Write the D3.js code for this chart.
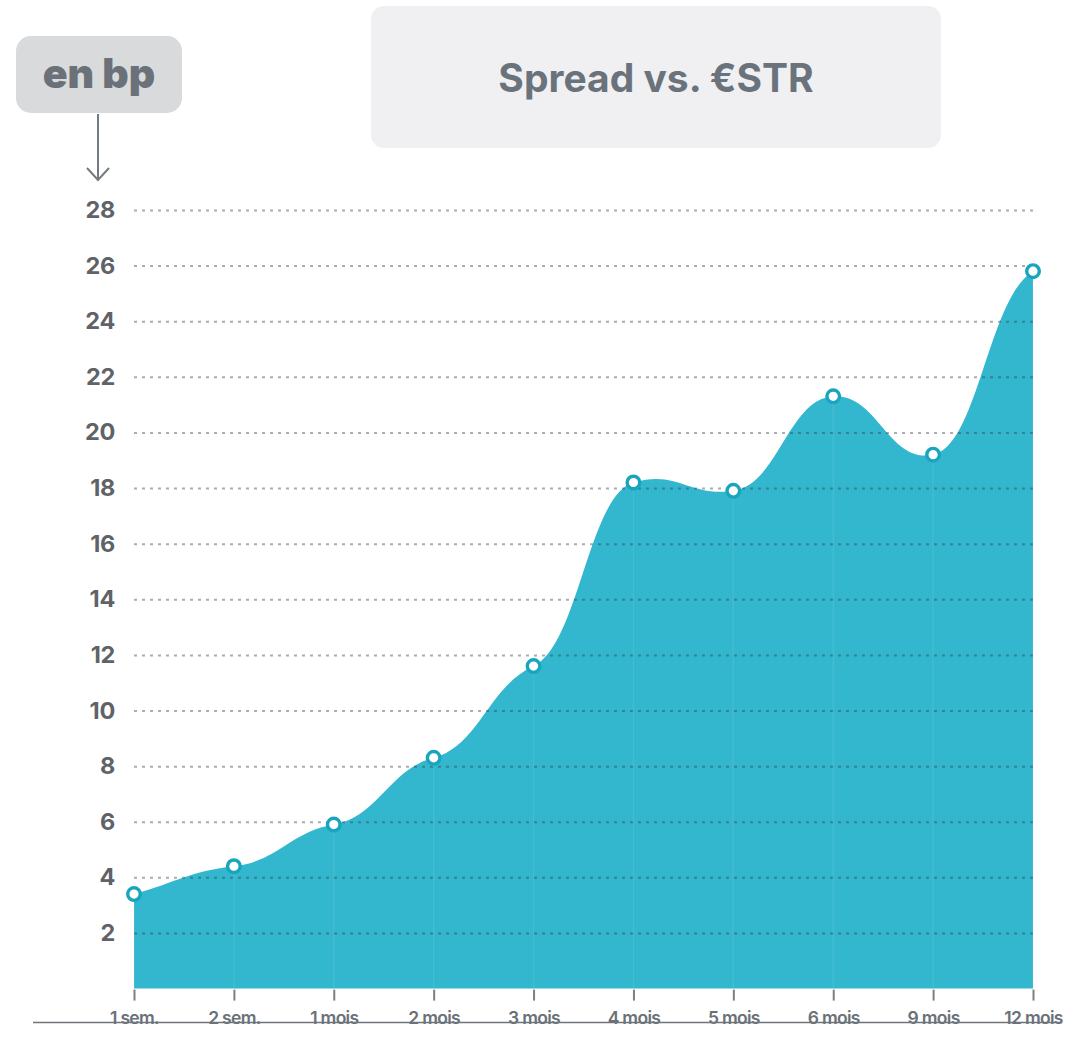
<!DOCTYPE html>
<html>
<head>
<meta charset="utf-8">
<script src="https://cdn.jsdelivr.net/npm/d3@7"></script>
<style>
  html, body { margin: 0; padding: 0; background: #ffffff; }
  svg { display: block; }
  text { font-family: "Inter", "Lato", "Open Sans", sans-serif; }
</style>
</head>
<body>
<svg id="chart" width="1076" height="1038"></svg>
<script>
// Maturities and spread over €STR (basis points)
const categories = ["1 sem.", "2 sem.", "1 mois", "2 mois", "3 mois", "4 mois", "5 mois", "6 mois", "9 mois", "12 mois"];
const spreadValues = [3.4, 4.4, 5.9, 8.3, 11.6, 18.2, 17.9, 21.3, 19.2, 25.8];
const yTickValues = [2, 4, 6, 8, 10, 12, 14, 16, 18, 20, 22, 24, 26, 28];
const titleText = "Spread vs. €STR";
const unitText = "en bp";

// Smooth curve with long horizontal handles and damped tangents,
// giving gentle S-shaped transitions between consecutive points.
function curveEased(context) { return new Eased(context); }
function Eased(context) { this._context = context; }
Eased.prototype = {
  areaStart() { this._line = 0; },
  areaEnd() { this._line = NaN; },
  lineStart() { this._xs = []; this._ys = []; },
  point(x, y) { this._xs.push(+x); this._ys.push(+y); },
  lineEnd() {
    const xs = this._xs, ys = this._ys, n = xs.length, c = this._context;
    const damp = 0.33, handle = 0.45;
    if (n) {
      this._line ? c.lineTo(xs[0], ys[0]) : c.moveTo(xs[0], ys[0]);
      if (n === 2) {
        c.lineTo(xs[1], ys[1]);
      } else if (n > 2) {
        const m = new Array(n);
        m[0] = (ys[1] - ys[0]) / (xs[1] - xs[0]);
        for (let i = 1; i < n - 1; i++) {
          m[i] = damp * (ys[i + 1] - ys[i - 1]) / (xs[i + 1] - xs[i - 1]);
        }
        m[n - 1] = damp * (ys[n - 1] - ys[n - 2]) / (xs[n - 1] - xs[n - 2]);
        for (let i = 0; i < n - 1; i++) {
          const dx = xs[i + 1] - xs[i];
          c.bezierCurveTo(
            xs[i] + handle * dx, ys[i] + handle * dx * m[i],
            xs[i + 1] - handle * dx, ys[i + 1] - handle * dx * m[i + 1],
            xs[i + 1], ys[i + 1]
          );
        }
      }
    }
    if (this._line || (this._line !== 0 && n === 1)) c.closePath();
    this._line = 1 - this._line;
  }
};

const svg = d3.select("#chart");

const x = d3.scalePoint().domain(categories).range([134, 1033]);
const y = d3.scaleLinear().domain([0, 28]).range([988.6, 210]);

const data = categories.map((c, i) => ({ cat: c, value: spreadValues[i] }));

// Title panel
svg.append("rect")
  .attr("x", 371).attr("y", 6).attr("width", 570).attr("height", 142)
  .attr("rx", 13).attr("fill", "#f0f0f2");
svg.append("text")
  .attr("x", 656).attr("y", 92)
  .attr("text-anchor", "middle")
  .attr("font-size", 39).attr("font-weight", 700)
  .attr("fill", "#6a737c")
  .text(titleText);

// Unit badge with arrow pointing down to the axis
svg.append("rect")
  .attr("x", 16).attr("y", 36).attr("width", 166).attr("height", 77)
  .attr("rx", 15).attr("fill", "#d9dadc");
svg.append("text")
  .attr("x", 99).attr("y", 88)
  .attr("text-anchor", "middle")
  .attr("font-size", 41).attr("font-weight", 900)
  .attr("fill", "#6a7178")
  .text(unitText);
svg.append("path")
  .attr("d", "M98,114 L98,180 M87,168 L98,180 L109,168")
  .attr("fill", "none").attr("stroke", "#737a82").attr("stroke-width", 2);

// Area under the spread curve
const area = d3.area()
  .x(d => x(d.cat))
  .y0(y(0))
  .y1(d => y(d.value))
  .curve(curveEased);

svg.append("path")
  .datum(data)
  .attr("d", area)
  .attr("fill", "#32b7ce");

// Faint vertical guides inside the area
svg.append("g")
  .selectAll("line")
  .data(data)
  .join("line")
  .attr("x1", d => x(d.cat)).attr("x2", d => x(d.cat))
  .attr("y1", d => y(d.value) + 7).attr("y2", y(0))
  .attr("stroke", "rgba(255,255,255,0.08)")
  .attr("stroke-width", 1.5);

// Horizontal dashed gridlines drawn over the area
const grid = svg.append("g")
  .attr("transform", "translate(134,0)")
  .call(d3.axisLeft(y).tickValues(yTickValues).tickSize(-901).tickFormat(""));
grid.select(".domain").remove();
grid.selectAll(".tick line")
  .attr("stroke", "rgba(55,60,70,0.42)")
  .attr("stroke-width", 2)
  .attr("stroke-dasharray", "3,5");

// Y axis labels
const yAxis = svg.append("g")
  .attr("transform", "translate(115,0)")
  .call(d3.axisLeft(y).tickValues(yTickValues).tickSize(0).tickPadding(0));
yAxis.select(".domain").remove();
yAxis.selectAll(".tick text")
  .attr("font-size", 23.5).attr("font-weight", 700)
  .attr("letter-spacing", "-0.3px")
  .attr("fill", "#5f6368")
  .style("font-family", "Inter, Lato, sans-serif");

// X axis: ticks and labels
const xAxis = svg.append("g")
  .attr("transform", `translate(0,${y(0) + 1})`)
  .call(d3.axisBottom(x).tickSize(11).tickPadding(11));
xAxis.select(".domain").remove();
xAxis.selectAll(".tick line")
  .attr("stroke", "#7a7f86").attr("stroke-width", 2);
xAxis.selectAll(".tick text")
  .attr("font-size", 17.5).attr("font-weight", 600)
  .attr("letter-spacing", "-0.7px")
  .attr("fill", "#6a7178")
  .style("font-family", "Inter, Lato, sans-serif");

// Bottom rule
svg.append("line")
  .attr("x1", 33).attr("x2", 1062)
  .attr("y1", 1022.5).attr("y2", 1022.5)
  .attr("stroke", "#6e747b").attr("stroke-width", 1.5);

// Data point markers
svg.append("g")
  .selectAll("circle")
  .data(data)
  .join("circle")
  .attr("cx", d => x(d.cat))
  .attr("cy", d => y(d.value))
  .attr("r", 6.3)
  .attr("fill", "#ffffff")
  .attr("stroke", "#19a5bd")
  .attr("stroke-width", 3.4);
</script>
</body>
</html>
